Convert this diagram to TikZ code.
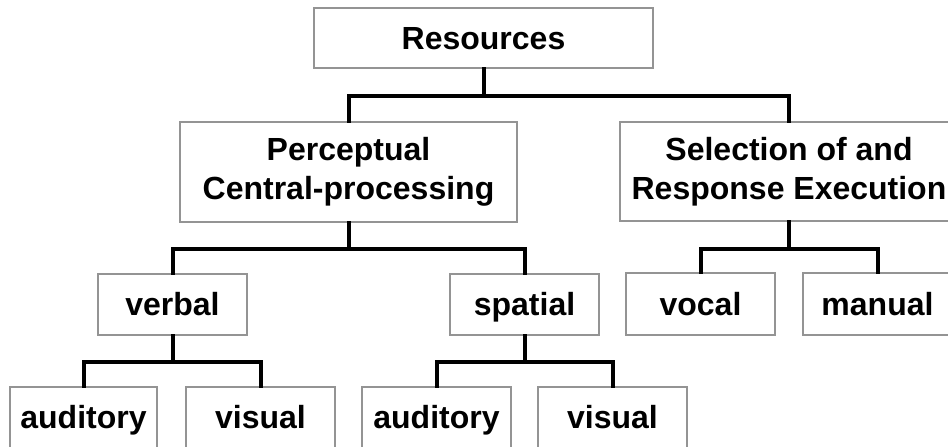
\documentclass[tikz,border=0pt]{standalone}
\usepackage{fontspec}
\setmainfont{Liberation Sans}
\begin{document}
\begin{tikzpicture}[x=1pt,y=-1pt,
  box/.style={draw=black!42,line width=1.4pt,fill=white,inner sep=0pt,align=center,
    font=\fontsize{32}{39}\selectfont\bfseries},
  one/.style={box,text height=22pt,text depth=0pt},
  conn/.style={line width=4pt,line cap=rect}]
\useasboundingbox (0,0) rectangle (948,447);
\clip (0,0) rectangle (948,447);
\node[one,minimum width=339pt,minimum height=60pt] (res) at (483.5,38) {Resources};
\node[box,minimum width=337pt,minimum height=100pt] (perc) at (348.5,172) {Perceptual\\Central-processing};
\node[box,minimum width=338pt,minimum height=99pt] (sel) at (789,171.5) {Selection of and\\Response Execution};
\node[one,minimum width=149pt,minimum height=61pt] (verb) at (172.5,304.5) {verbal};
\node[one,minimum width=149pt,minimum height=61pt] (spat) at (524.5,304.5) {spatial};
\node[one,minimum width=149pt,minimum height=62pt] (voc) at (700.5,304) {vocal};
\node[one,minimum width=149pt,minimum height=62pt] (man) at (877.5,304) {manual};
\node[one,minimum width=147pt,minimum height=61pt] (aud1) at (83.5,417.5) {auditory};
\node[one,minimum width=149pt,minimum height=61pt] (vis1) at (260.5,417.5) {visual};
\node[one,minimum width=149pt,minimum height=61pt] (aud2) at (436.5,417.5) {auditory};
\node[one,minimum width=149pt,minimum height=61pt] (vis2) at (612.5,417.5) {visual};
\coordinate (b1) at (0,96);
\coordinate (b2) at (0,249);
\coordinate (b3) at (0,362);
\draw[conn] (res.south) -- (res.south |- b1);
\draw[conn] (perc.north) |- (res.south |- b1) -| (sel.north);
\draw[conn] (perc.south) -- (perc.south |- b2);
\draw[conn] (verb.north) |- (perc.south |- b2) -| (spat.north);
\draw[conn] (sel.south) -- (sel.south |- b2);
\draw[conn] (voc.north) |- (sel.south |- b2) -| (man.north);
\draw[conn] (verb.south) -- (verb.south |- b3);
\draw[conn] (aud1.north) |- (verb.south |- b3) -| (vis1.north);
\draw[conn] (spat.south) -- (spat.south |- b3);
\draw[conn] (aud2.north) |- (spat.south |- b3) -| (vis2.north);
\end{tikzpicture}
\end{document}
